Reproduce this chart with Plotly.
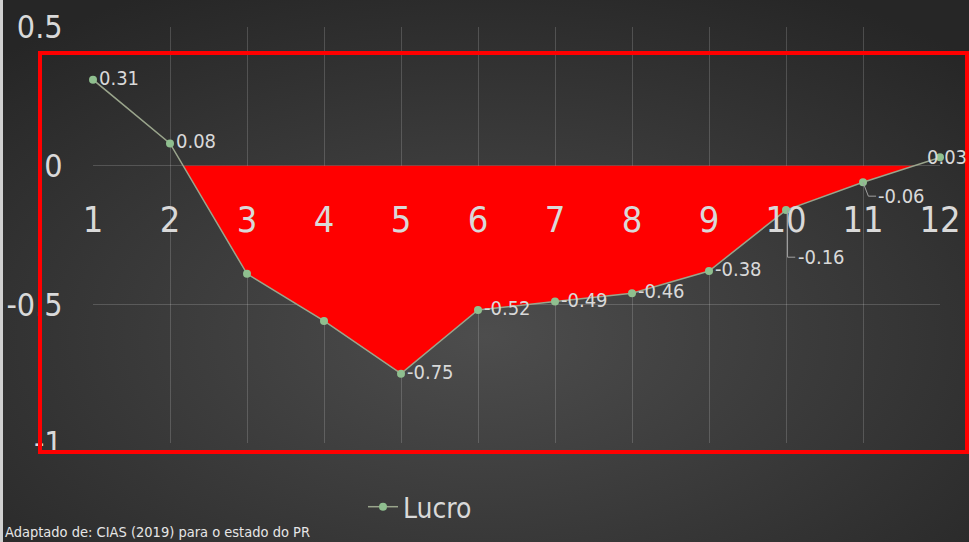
import base64
import plotly.graph_objects as go

# data
meses = list(range(1, 13))
lucro = [0.31, 0.08, -0.39, -0.56, -0.75, -0.52, -0.49, -0.46, -0.38, -0.16, -0.06, 0.03]
rotulos = ['0.31', '0.08', '', '', '-0.75', '-0.52', '-0.49', '-0.46', '-0.38', '', '', '']
y_ticks = [0.5, 0, -0.5, -1]
y_ticktext = ['0.5', '0', '-0.5', '-1']
fonte_txt = 'Adaptado de: CIAS (2019) para o estado do PR'

FONT = 'DejaVu Sans Condensed, Liberation Sans Narrow, sans-serif'
TXT = '#d9d9d9'
W, H = 969, 542
L, R, T, B = 93, 29, 27, 99
PW, PH = W - L - R, H - T - B
ymin, ymax = -1, 0.5

# red area: negative part of the curve, closed on the zero line
fx, fy = [], []
for i in range(len(meses)):
    if i > 0 and (lucro[i - 1] >= 0) != (lucro[i] >= 0):
        t = lucro[i - 1] / (lucro[i - 1] - lucro[i])
        fx.append(meses[i - 1] + t)
        fy.append(0)
    if lucro[i] < 0:
        fx.append(meses[i])
        fy.append(lucro[i])

fig = go.Figure()
fig.add_trace(go.Scatter(
    x=fx, y=fy, fill='tozeroy', fillcolor='#ff0000',
    mode='lines', line=dict(width=0), showlegend=False, hoverinfo='skip'
))
fig.add_trace(go.Scatter(
    x=meses, y=lucro, name='Lucro',
    mode='lines+markers+text',
    text=rotulos, textposition='middle right',
    textfont=dict(family=FONT, size=20, color=TXT),
    line=dict(color='#9aa58c', width=1.5),
    marker=dict(color='#8fbf8f', size=8),
    cliponaxis=False
))

# labels with leader lines (months 10, 11, 12)
i10, i11, i12 = 9, 10, 11
fig.add_shape(type='path', xref='x', yref='y',
              path=f'M {meses[i10]+0.02},{lucro[i10]} L {meses[i10]+0.02},{lucro[i10]-0.17} L {meses[i10]+0.12},{lucro[i10]-0.17}',
              line=dict(color='#a0a0a0', width=1))
fig.add_annotation(x=meses[i10] + 0.13, y=lucro[i10] - 0.17, text='-0.16', showarrow=False,
                   xanchor='left', yanchor='middle', font=dict(family=FONT, size=20, color=TXT))
fig.add_shape(type='path', xref='x', yref='y',
              path=f'M {meses[i11]},{lucro[i11]} L {meses[i11]+0.07},{lucro[i11]-0.05} L {meses[i11]+0.17},{lucro[i11]-0.05}',
              line=dict(color='#a0a0a0', width=1))
fig.add_annotation(x=meses[i11] + 0.17, y=lucro[i11] - 0.05, text='-0.06', showarrow=False,
                   xanchor='left', yanchor='middle', font=dict(family=FONT, size=20, color=TXT))
fig.add_annotation(x=meses[i12] - 0.2, y=lucro[i12], text='0.03', showarrow=False,
                   xanchor='left', yanchor='middle', font=dict(family=FONT, size=20, color=TXT))

# background gradient
svg = (f'<svg xmlns="http://www.w3.org/2000/svg" width="{W}" height="{H}">'
       '<defs><radialGradient id="g" cx="0.5" cy="0.62" r="0.72">'
       '<stop offset="0" stop-color="#4d4d4d"/><stop offset="1" stop-color="#262626"/>'
       '</radialGradient></defs><rect width="100%" height="100%" fill="url(#g)"/></svg>')
src = 'data:image/svg+xml;base64,' + base64.b64encode(svg.encode()).decode()
fig.add_layout_image(source=src, xref='paper', yref='paper',
                     x=-L / PW, y=1 + T / PH, sizex=W / PW, sizey=H / PH,
                     xanchor='left', yanchor='top', sizing='stretch', layer='below')

# red frame and thin light strip on the left edge
fig.add_shape(type='rect', xref='paper', yref='paper',
              x0=(40 - L) / PW, x1=(967 - L) / PW, y0=(T + PH - 452) / PH, y1=(T + PH - 53) / PH,
              line=dict(color='#ff0000', width=4), layer='above')
fig.add_shape(type='rect', xref='paper', yref='paper',
              x0=-L / PW, x1=(3 - L) / PW, y0=-B / PH, y1=1 + T / PH,
              line=dict(width=0), fillcolor='#d0d0d0', layer='above')

# footnote
fig.add_annotation(xref='paper', yref='paper', x=(3 - L) / PW, y=-B / PH,
                   xanchor='left', yanchor='bottom', showarrow=False, text=fonte_txt,
                   font=dict(family=FONT, size=14.5, color='#e6e6e6'))

fig.update_layout(
    width=W, height=H,
    margin=dict(l=L, r=R, t=T, b=B, pad=0, autoexpand=False),
    paper_bgcolor='#2a2a2a', plot_bgcolor='rgba(0,0,0,0)',
    font=dict(family=FONT, color=TXT),
    legend=dict(orientation='h', x=(363 - L) / PW, y=(T + PH - 507) / PH,
                xanchor='left', yanchor='middle',
                font=dict(family=FONT, size=28, color=TXT),
                bgcolor='rgba(0,0,0,0)')
)

fig.update_xaxes(range=[meses[0], meses[-1]], tickvals=meses, automargin=False,
                 anchor='free', position=(0 - ymin) / (ymax - ymin),
                 ticks='outside', ticklen=22, tickcolor='rgba(0,0,0,0)',
                 tickfont=dict(family=FONT, size=36, color=TXT),
                 showgrid=True, gridcolor='rgba(255,255,255,0.17)', gridwidth=1,
                 zeroline=False, showline=False)
fig.update_yaxes(range=[ymin, ymax], tickvals=y_ticks, ticktext=y_ticktext, automargin=False,
                 ticks='outside', ticklen=23, tickcolor='rgba(0,0,0,0)',
                 tickfont=dict(family=FONT, size=32, color=TXT),
                 showgrid=True, gridcolor='rgba(255,255,255,0.17)', gridwidth=1,
                 zeroline=False, showline=False)

# drop the default page margin so the 969x542 figure fills the window
fig.write_html('out.html', config={'displayModeBar': False},
               post_script="document.body.style.margin='0';")
